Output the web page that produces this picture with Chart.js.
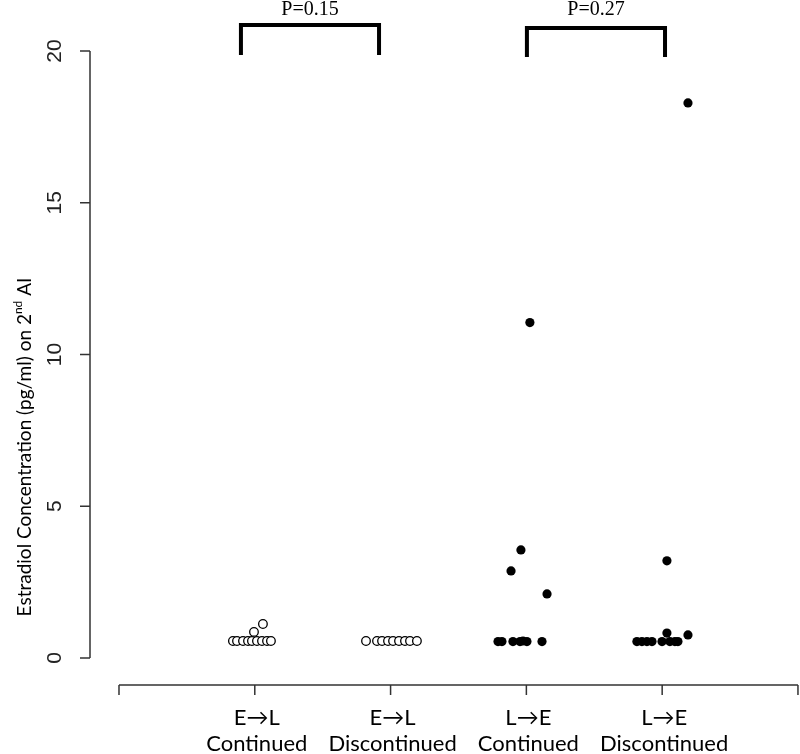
<!DOCTYPE html>
<html>
<head>
<meta charset="utf-8">
<script src="https://cdn.jsdelivr.net/npm/chart.js@4"></script>
<style>
  html, body { margin: 0; padding: 0; background: #fff; overflow: hidden; }
  canvas { display: block; }
</style>
</head>
<body>
<canvas id="chart" width="800" height="754"></canvas>
<script>
// categories (x positions 1..4)
const categories = [
    ['E\u2192L', 'Continued'],
    ['E\u2192L', 'Discontinued'],
    ['L\u2192E', 'Continued'],
    ['L\u2192E', 'Discontinued']
];
const yTicks = [0, 5, 10, 15, 20];
const xTicks = [0, 1, 2, 3, 4, 5];

// jittered points
const elContX = [0.839, 0.869, 0.913, 0.950, 0.979, 1.016, 1.053, 1.090, 1.119, 0.994, 1.060];
const elContY = [0.56, 0.56, 0.56, 0.56, 0.56, 0.56, 0.56, 0.56, 0.56, 0.86, 1.12];

const elDiscX = [1.819, 1.900, 1.937, 1.981, 2.018, 2.062, 2.106, 2.143, 2.194];
const elDiscY = [0.56, 0.56, 0.56, 0.56, 0.56, 0.56, 0.56, 0.56, 0.56];

const leContX = [2.791, 2.820, 2.901, 2.953, 2.975, 3.004, 3.115, 2.960, 2.887, 3.152, 3.026];
const leContY = [0.54, 0.54, 0.54, 0.54, 0.56, 0.54, 0.54, 3.56, 2.87, 2.11, 11.05];

const leDiscX = [3.814, 3.851, 3.888, 3.925, 3.999, 4.057, 4.094, 4.116, 4.035, 4.035, 4.190, 4.190];
const leDiscY = [0.54, 0.54, 0.54, 0.54, 0.54, 0.54, 0.54, 0.54, 3.20, 0.82, 0.76, 18.29];

// significance brackets
const bracketLabels = ['P=0.15', 'P=0.27'];
const bracketX = [[0.898, 1.915], [3.004, 4.021]];
const bracketTop = [20.86, 20.76];
const bracketBottom = [19.87, 19.80];

function toPoints(xs, ys) {
    return xs.map((x, i) => ({ x: x, y: ys[i] }));
}

function bracketPoints(i) {
    const [a, b] = bracketX[i];
    return [
        { x: a, y: bracketBottom[i] },
        { x: a, y: bracketTop[i] },
        { x: b, y: bracketTop[i] },
        { x: b, y: bracketBottom[i] }
    ];
}

const openStyle = {
    pointRadius: 4.3,
    pointBackgroundColor: '#fff',
    pointBorderColor: '#000',
    pointBorderWidth: 1.3,
    showLine: false
};
const filledStyle = {
    pointRadius: 4.6,
    pointBackgroundColor: '#000',
    pointBorderColor: '#000',
    pointBorderWidth: 0,
    showLine: false
};
const bracketStyle = {
    showLine: true,
    pointRadius: 0,
    borderColor: '#000',
    borderWidth: 4,
    borderJoinStyle: 'miter',
    tension: 0,
    fill: false,
    clip: false
};

// R-style axes, labels and P values
const rAxes = {
    id: 'rAxes',
    afterDraw(chart) {
        const ctx = chart.ctx;
        const xs = chart.scales.x, ys = chart.scales.y;
        const area = chart.chartArea;
        ctx.save();
        ctx.strokeStyle = '#333';
        ctx.lineWidth = 1.5;

        // y axis
        const ax = area.left;
        ctx.beginPath();
        ctx.moveTo(ax, ys.getPixelForValue(yTicks[0]));
        ctx.lineTo(ax, ys.getPixelForValue(yTicks[yTicks.length - 1]));
        yTicks.forEach(t => {
            const p = ys.getPixelForValue(t);
            ctx.moveTo(ax, p);
            ctx.lineTo(ax - 10, p);
        });
        ctx.stroke();

        ctx.fillStyle = '#222';
        ctx.font = '21px "Liberation Sans Narrow", "Liberation Sans", sans-serif';
        ctx.textAlign = 'center';
        ctx.textBaseline = 'middle';
        yTicks.forEach(t => {
            ctx.save();
            ctx.translate(55, ys.getPixelForValue(t));
            ctx.rotate(-Math.PI / 2);
            ctx.fillText(String(t), 0, 0);
            ctx.restore();
        });

        // y title with superscript
        ctx.save();
        ctx.translate(25, 447);
        ctx.rotate(-Math.PI / 2);
        const big = '19px Lato, "Open Sans", sans-serif';
        const small = '12px Lato, "Open Sans", sans-serif';
        const parts = [
            ['Estradiol Concentration (pg/ml) on 2', big, 0],
            ['nd', small, -7],
            [' AI', big, 0]
        ];
        let total = 0;
        parts.forEach(p => { ctx.font = p[1]; total += ctx.measureText(p[0]).width; });
        let cx = -total / 2;
        ctx.textAlign = 'left';
        ctx.fillStyle = '#000';
        parts.forEach(p => {
            ctx.font = p[1];
            ctx.fillText(p[0], cx, p[2]);
            cx += ctx.measureText(p[0]).width;
        });
        ctx.restore();

        // x axis
        const ay = area.bottom;
        ctx.beginPath();
        ctx.moveTo(xs.getPixelForValue(xTicks[0]), ay);
        ctx.lineTo(xs.getPixelForValue(xTicks[xTicks.length - 1]), ay);
        xTicks.forEach(t => {
            const p = xs.getPixelForValue(t);
            ctx.moveTo(p, ay);
            ctx.lineTo(p, ay + 10);
        });
        ctx.stroke();

        ctx.fillStyle = '#000';
        ctx.font = '22px Lato, "Open Sans", sans-serif';
        ctx.textAlign = 'center';
        categories.forEach((lines, i) => {
            const p = xs.getPixelForValue(i + 1) + 2;
            ctx.fillText(lines[0], p, 718);
            ctx.fillText(lines[1], p, 744);
        });

        // P values above brackets
        ctx.font = '20px "Liberation Serif", "Times New Roman", serif';
        ctx.textBaseline = 'alphabetic';
        bracketLabels.forEach((txt, i) => {
            const mid = (bracketX[i][0] + bracketX[i][1]) / 2;
            ctx.fillText(txt, xs.getPixelForValue(mid), 15);
        });
        ctx.restore();
    }
};

new Chart(document.getElementById('chart'), {
    type: 'scatter',
    data: {
        datasets: [
            Object.assign({ data: toPoints(elContX, elContY) }, openStyle),
            Object.assign({ data: toPoints(elDiscX, elDiscY) }, openStyle),
            Object.assign({ data: toPoints(leContX, leContY) }, filledStyle),
            Object.assign({ data: toPoints(leDiscX, leDiscY) }, filledStyle),
            Object.assign({ data: bracketPoints(0) }, bracketStyle),
            Object.assign({ data: bracketPoints(1) }, bracketStyle)
        ]
    },
    options: {
        responsive: false,
        animation: false,
        layout: { autoPadding: false, padding: { left: 90, right: 0, top: 0, bottom: 69 } },
        plugins: { legend: { display: false }, tooltip: { enabled: false } },
        scales: {
            x: { type: 'linear', display: false, min: -0.2135, max: 5.015 },
            y: { type: 'linear', display: false, min: -0.89, max: 21.68 }
        }
    },
    plugins: [rAxes]
});
</script>
</body>
</html>
